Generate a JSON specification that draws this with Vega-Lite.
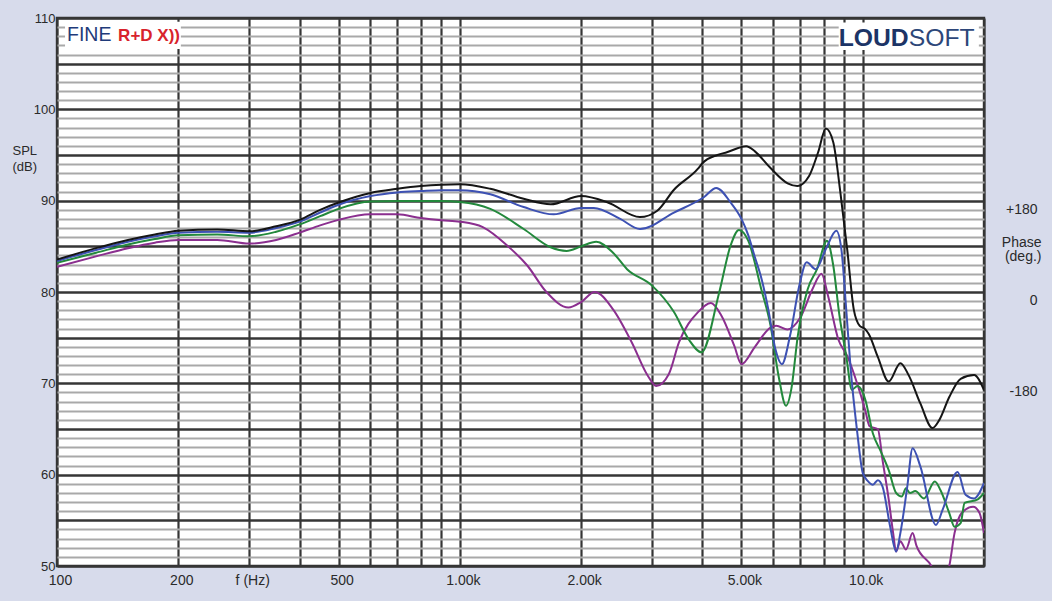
{
  "$schema": "https://vega.github.io/schema/vega-lite/v6.json",
  "width": 927,
  "height": 548,
  "autosize": {"type": "none"},
  "padding": {"left": 57, "top": 18, "right": 68, "bottom": 35},
  "background": "#d7dbeb",
  "config": {
    "font": "Liberation Sans",
    "view": {"fill": "white", "stroke": "#333333", "strokeWidth": 2.4},
    "axis": {"labelColor": "#2a2a2a", "titleColor": "#2a2a2a", "labelFont": "Liberation Sans", "titleFont": "Liberation Sans"}
  },
  "layer": [
    {
      "encoding": {
        "x": {
          "field": "f", "type": "quantitative",
          "scale": {"type": "log", "domain": [100, 20000], "nice": false},
          "axis": {
            "values": [100, 200, 300, 400, 500, 600, 700, 800, 900, 1000, 2000, 3000, 4000, 5000, 6000, 7000, 8000, 9000, 10000, 20000],
            "labelExpr": "datum.value==100?'100':datum.value==200?'200':datum.value==300?'f (Hz)':datum.value==500?'500':datum.value==1000?'1.00k':datum.value==2000?'2.00k':datum.value==5000?'5.00k':datum.value==10000?'10.0k':''",
            "grid": true, "gridColor": "#363636", "gridWidth": 2.2,
            "ticks": false, "tickSize": 0, "domain": false,
            "labelPadding": 7, "labelFontSize": 14, "labelFlush": false, "labelOverlap": false, "labelOffset": 3,
            "title": null
          }
        },
        "y": {
          "field": "db", "type": "quantitative",
          "scale": {"domain": [50, 110], "nice": false, "zero": false},
          "axis": {
            "values": [50,51,52,53,54,55,56,57,58,59,60,61,62,63,64,65,66,67,68,69,70,71,72,73,74,75,76,77,78,79,80,81,82,83,84,85,86,87,88,89,90,91,92,93,94,95,96,97,98,99,100,101,102,103,104,105,106,107,108,109,110],
            "labelExpr": "datum.value % 10 === 0 ? datum.label : ''",
            "grid": true,
            "gridColor": {"condition": {"test": "datum.value % 5 === 0", "value": "#363636"}, "value": "#a9a9a9"},
            "gridWidth": {"condition": {"test": "datum.value % 5 === 0", "value": 2.4}, "value": 1.8},
            "ticks": false, "tickSize": 0, "domain": false,
            "labelPadding": 2, "labelFontSize": 13, "labelFlush": false, "labelOverlap": false,
            "title": ["SPL", "(dB)"], "titleAngle": 0, "titleAlign": "left", "titleBaseline": "alphabetic",
            "titleX": -45, "titleY": 136, "titleFontWeight": "normal", "titleFontSize": 13, "titleLineHeight": 16
          }
        }
      },
      "layer": [
        {
          "data": {"values": [
{"s":"purple","f":100,"db":82.75},{"s":"purple","f":125,"db":83.9},{"s":"purple","f":150,"db":84.8},{"s":"purple","f":175,"db":85.4},{"s":"purple","f":200,"db":85.7},{"s":"purple","f":250,"db":85.7},{"s":"purple","f":300,"db":85.3},{"s":"purple","f":350,"db":85.7},{"s":"purple","f":400,"db":86.5},{"s":"purple","f":450,"db":87.3},{"s":"purple","f":500,"db":87.9},{"s":"purple","f":600,"db":88.5},{"s":"purple","f":700,"db":88.5},{"s":"purple","f":800,"db":88.1},{"s":"purple","f":900,"db":87.85},{"s":"purple","f":1000,"db":87.7},{"s":"purple","f":1140,"db":87.1},{"s":"purple","f":1310,"db":85.1},{"s":"purple","f":1470,"db":82.9},{"s":"purple","f":1640,"db":80.0},{"s":"purple","f":1860,"db":78.3},{"s":"purple","f":2000,"db":78.9},{"s":"purple","f":2160,"db":80.0},{"s":"purple","f":2400,"db":78.1},{"s":"purple","f":2670,"db":74.5},{"s":"purple","f":2930,"db":70.8},{"s":"purple","f":3070,"db":69.7},{"s":"purple","f":3300,"db":71.0},{"s":"purple","f":3500,"db":74.5},{"s":"purple","f":3900,"db":77.8},{"s":"purple","f":4200,"db":78.8},{"s":"purple","f":4460,"db":77.4},{"s":"purple","f":4800,"db":74.1},{"s":"purple","f":5000,"db":72.1},{"s":"purple","f":5400,"db":74.0},{"s":"purple","f":5900,"db":76.1},{"s":"purple","f":6100,"db":76.3},{"s":"purple","f":6500,"db":75.9},{"s":"purple","f":7000,"db":77.2},{"s":"purple","f":7500,"db":80.3},{"s":"purple","f":7900,"db":82.0},{"s":"purple","f":8200,"db":79.6},{"s":"purple","f":8700,"db":74.8},{"s":"purple","f":9150,"db":73.0},{"s":"purple","f":9700,"db":69.9},{"s":"purple","f":10150,"db":67.0},{"s":"purple","f":10400,"db":65.3},{"s":"purple","f":10900,"db":65.0},{"s":"purple","f":11200,"db":61.6},{"s":"purple","f":11600,"db":57.3},{"s":"purple","f":11900,"db":53.6},{"s":"purple","f":12100,"db":51.6},{"s":"purple","f":12400,"db":52.7},{"s":"purple","f":12800,"db":51.8},{"s":"purple","f":13300,"db":53.6},{"s":"purple","f":13600,"db":52.2},{"s":"purple","f":14800,"db":50.0},{"s":"purple","f":15300,"db":48.7},{"s":"purple","f":15900,"db":48.3},{"s":"purple","f":16400,"db":50.0},{"s":"purple","f":16900,"db":53.6},{"s":"purple","f":17600,"db":55.8},{"s":"purple","f":18800,"db":56.5},{"s":"purple","f":19500,"db":55.8},{"s":"purple","f":20000,"db":53.6},
{"s":"green","f":100,"db":83.2},{"s":"green","f":125,"db":84.3},{"s":"green","f":150,"db":85.2},{"s":"green","f":175,"db":85.8},{"s":"green","f":200,"db":86.2},{"s":"green","f":250,"db":86.3},{"s":"green","f":300,"db":86.1},{"s":"green","f":350,"db":86.6},{"s":"green","f":400,"db":87.4},{"s":"green","f":450,"db":88.3},{"s":"green","f":500,"db":89.1},{"s":"green","f":600,"db":89.9},{"s":"green","f":700,"db":89.95},{"s":"green","f":800,"db":89.95},{"s":"green","f":900,"db":89.95},{"s":"green","f":1000,"db":89.85},{"s":"green","f":1190,"db":89.1},{"s":"green","f":1440,"db":86.9},{"s":"green","f":1680,"db":84.9},{"s":"green","f":1840,"db":84.5},{"s":"green","f":2000,"db":85.0},{"s":"green","f":2180,"db":85.5},{"s":"green","f":2400,"db":84.3},{"s":"green","f":2600,"db":82.5},{"s":"green","f":3000,"db":80.7},{"s":"green","f":3400,"db":77.8},{"s":"green","f":3700,"db":74.8},{"s":"green","f":3980,"db":73.4},{"s":"green","f":4400,"db":79.9},{"s":"green","f":4700,"db":85.1},{"s":"green","f":4930,"db":86.8},{"s":"green","f":5200,"db":85.6},{"s":"green","f":5600,"db":80.3},{"s":"green","f":5900,"db":76.4},{"s":"green","f":6200,"db":70.5},{"s":"green","f":6450,"db":67.55},{"s":"green","f":6650,"db":69.4},{"s":"green","f":6900,"db":75.2},{"s":"green","f":7300,"db":80.3},{"s":"green","f":7700,"db":82.5},{"s":"green","f":8150,"db":85.6},{"s":"green","f":8450,"db":82.9},{"s":"green","f":8750,"db":77.5},{"s":"green","f":9100,"db":73.0},{"s":"green","f":9400,"db":69.3},{"s":"green","f":9700,"db":69.7},{"s":"green","f":10000,"db":69.0},{"s":"green","f":10150,"db":68.2},{"s":"green","f":10600,"db":64.5},{"s":"green","f":11100,"db":62.5},{"s":"green","f":11600,"db":60.5},{"s":"green","f":12100,"db":58.0},{"s":"green","f":12500,"db":57.6},{"s":"green","f":12800,"db":58.5},{"s":"green","f":13100,"db":58.0},{"s":"green","f":13500,"db":58.2},{"s":"green","f":14200,"db":57.4},{"s":"green","f":15100,"db":59.25},{"s":"green","f":15600,"db":58.3},{"s":"green","f":16400,"db":55.8},{"s":"green","f":16900,"db":54.3},{"s":"green","f":17500,"db":54.7},{"s":"green","f":17900,"db":56.9},{"s":"green","f":19300,"db":57.3},{"s":"green","f":20000,"db":58.0},
{"s":"blue","f":100,"db":83.4},{"s":"blue","f":125,"db":84.6},{"s":"blue","f":150,"db":85.5},{"s":"blue","f":175,"db":86.1},{"s":"blue","f":200,"db":86.5},{"s":"blue","f":250,"db":86.6},{"s":"blue","f":300,"db":86.5},{"s":"blue","f":350,"db":87.0},{"s":"blue","f":400,"db":87.7},{"s":"blue","f":450,"db":88.7},{"s":"blue","f":500,"db":89.55},{"s":"blue","f":600,"db":90.5},{"s":"blue","f":700,"db":90.9},{"s":"blue","f":800,"db":91.05},{"s":"blue","f":900,"db":91.15},{"s":"blue","f":1000,"db":91.15},{"s":"blue","f":1190,"db":90.7},{"s":"blue","f":1440,"db":89.3},{"s":"blue","f":1710,"db":88.5},{"s":"blue","f":2000,"db":89.2},{"s":"blue","f":2150,"db":89.2},{"s":"blue","f":2500,"db":88.0},{"s":"blue","f":2800,"db":86.9},{"s":"blue","f":3400,"db":88.7},{"s":"blue","f":4040,"db":90.4},{"s":"blue","f":4330,"db":91.4},{"s":"blue","f":4700,"db":89.8},{"s":"blue","f":5000,"db":88.0},{"s":"blue","f":5200,"db":86.2},{"s":"blue","f":5400,"db":83.8},{"s":"blue","f":5580,"db":81.8},{"s":"blue","f":5830,"db":78.1},{"s":"blue","f":6070,"db":73.75},{"s":"blue","f":6300,"db":72.1},{"s":"blue","f":6600,"db":75.2},{"s":"blue","f":6960,"db":80.7},{"s":"blue","f":7260,"db":83.25},{"s":"blue","f":7640,"db":82.5},{"s":"blue","f":8100,"db":84.7},{"s":"blue","f":8600,"db":86.7},{"s":"blue","f":8850,"db":84.7},{"s":"blue","f":9100,"db":78.1},{"s":"blue","f":9330,"db":71.7},{"s":"blue","f":9700,"db":64.5},{"s":"blue","f":10000,"db":60.2},{"s":"blue","f":10300,"db":59.3},{"s":"blue","f":10600,"db":58.9},{"s":"blue","f":10900,"db":59.4},{"s":"blue","f":11200,"db":58.7},{"s":"blue","f":11700,"db":54.3},{"s":"blue","f":12100,"db":51.6},{"s":"blue","f":12400,"db":53.6},{"s":"blue","f":12900,"db":58.7},{"s":"blue","f":13300,"db":62.9},{"s":"blue","f":13900,"db":60.9},{"s":"blue","f":15200,"db":54.5},{"s":"blue","f":15800,"db":56.2},{"s":"blue","f":17200,"db":60.3},{"s":"blue","f":18000,"db":57.8},{"s":"blue","f":18900,"db":57.4},{"s":"blue","f":20000,"db":59.1},
{"s":"black","f":100,"db":83.55},{"s":"black","f":125,"db":84.8},{"s":"black","f":150,"db":85.7},{"s":"black","f":175,"db":86.3},{"s":"black","f":200,"db":86.7},{"s":"black","f":250,"db":86.85},{"s":"black","f":300,"db":86.65},{"s":"black","f":350,"db":87.2},{"s":"black","f":400,"db":87.9},{"s":"black","f":450,"db":89.0},{"s":"black","f":500,"db":89.8},{"s":"black","f":600,"db":90.85},{"s":"black","f":700,"db":91.3},{"s":"black","f":800,"db":91.6},{"s":"black","f":900,"db":91.75},{"s":"black","f":1000,"db":91.8},{"s":"black","f":1190,"db":91.3},{"s":"black","f":1440,"db":90.2},{"s":"black","f":1680,"db":89.6},{"s":"black","f":2000,"db":90.5},{"s":"black","f":2330,"db":89.8},{"s":"black","f":2800,"db":88.2},{"s":"black","f":3090,"db":88.9},{"s":"black","f":3400,"db":91.2},{"s":"black","f":3900,"db":93.5},{"s":"black","f":4000,"db":94.1},{"s":"black","f":4360,"db":95.0},{"s":"black","f":4600,"db":95.3},{"s":"black","f":5140,"db":95.95},{"s":"black","f":5400,"db":95.4},{"s":"black","f":5880,"db":93.65},{"s":"black","f":6510,"db":91.9},{"s":"black","f":6880,"db":91.6},{"s":"black","f":7360,"db":92.7},{"s":"black","f":7750,"db":95.3},{"s":"black","f":8100,"db":97.9},{"s":"black","f":8450,"db":96.4},{"s":"black","f":8800,"db":90.9},{"s":"black","f":9150,"db":84.7},{"s":"black","f":9500,"db":78.1},{"s":"black","f":9830,"db":76.3},{"s":"black","f":10100,"db":76.0},{"s":"black","f":10350,"db":75.4},{"s":"black","f":10900,"db":72.9},{"s":"black","f":11600,"db":70.2},{"s":"black","f":12400,"db":72.2},{"s":"black","f":13000,"db":70.9},{"s":"black","f":13900,"db":67.8},{"s":"black","f":14900,"db":65.1},{"s":"black","f":15500,"db":66.0},{"s":"black","f":16400,"db":68.5},{"s":"black","f":17500,"db":70.5},{"s":"black","f":18900,"db":70.9},{"s":"black","f":20000,"db":69.25}
          ]},
          "mark": {"type": "line", "interpolate": "monotone", "strokeWidth": 2, "clip": true},
          "encoding": {
            "color": {"field": "s", "type": "nominal", "legend": null,
              "scale": {"domain": ["purple", "green", "blue", "black"], "range": ["#8b2f8f", "#23893c", "#3d51b3", "#151515"]}}
          }
        },
        {
          "data": {"values": [{"f": 104.7, "f2": 203, "db": 106.6, "db2": 109.6}, {"f": 8717, "f2": 19422, "db": 106.5, "db2": 109.5}]},
          "mark": {"type": "rect", "fill": "white", "stroke": null},
          "encoding": {"x2": {"field": "f2"}, "y2": {"field": "db2"}}
        },
        {
          "data": {"values": [{"f": 105.9, "db": 107.45, "label": "FINE"}]},
          "mark": {"type": "text", "align": "left", "baseline": "alphabetic", "fontSize": 19.5, "font": "Liberation Sans", "fill": "#1f3b7a"},
          "encoding": {"text": {"field": "label"}}
        },
        {
          "data": {"values": [{"f": 141.8, "db": 107.45, "label": "R+D X))"}]},
          "mark": {"type": "text", "align": "left", "baseline": "alphabetic", "fontSize": 17, "fontWeight": "bold", "font": "Liberation Sans", "fill": "#d8232c"},
          "encoding": {"text": {"field": "label"}}
        },
        {
          "data": {"values": [{"f": 8717, "db": 106.97, "label": "LOUD"}]},
          "mark": {"type": "text", "align": "left", "baseline": "alphabetic", "fontSize": 24.7, "fontWeight": "bold", "font": "Liberation Sans", "fill": "#1c3466"},
          "encoding": {"text": {"field": "label"}}
        },
        {
          "data": {"values": [{"f": 13012, "db": 106.97, "label": "SOFT"}]},
          "mark": {"type": "text", "align": "left", "baseline": "alphabetic", "fontSize": 24.7, "font": "Liberation Sans", "fill": "#2d4779"},
          "encoding": {"text": {"field": "label"}}
        }
      ]
    },
    {
      "data": {"values": [{"phase": -180}, {"phase": 0}, {"phase": 180}]},
      "mark": {"type": "point", "opacity": 0},
      "encoding": {
        "y": {
          "field": "phase", "type": "quantitative",
          "scale": {"domain": [-523, 557], "nice": false, "zero": false},
          "axis": {
            "orient": "right", "values": [-180, 0, 180],
            "labelExpr": "datum.value > 0 ? '+180' : datum.value < 0 ? '-180' : '0'",
            "grid": false, "ticks": false, "tickSize": 0, "domain": false,
            "labelAlign": "right", "labelPadding": 53, "labelFontSize": 14, "labelFlush": false, "labelOverlap": false,
            "title": ["Phase", "(deg.)"], "titleAngle": 0, "titleAlign": "right", "titleBaseline": "alphabetic",
            "titleX": 57, "titleY": 228, "titleFontWeight": "normal", "titleFontSize": 14, "titleLineHeight": 14
          }
        }
      }
    }
  ],
  "resolve": {"scale": {"y": "independent"}, "axis": {"y": "independent"}}
}
